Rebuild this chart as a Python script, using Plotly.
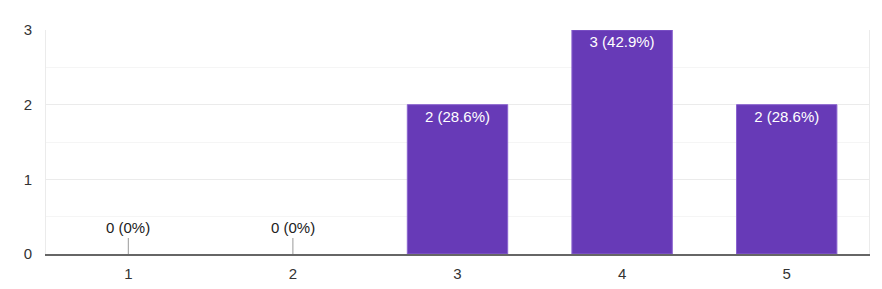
import plotly.graph_objects as go

categories = ["1", "2", "3", "4", "5"]
counts = [0, 0, 2, 3, 2]
percents = ["0%", "0%", "28.6%", "42.9%", "28.6%"]
y_ticks = [0, 1, 2, 3]

labels = [f"{c} ({p})" for c, p in zip(counts, percents)]
bar_text = [l if c > 0 else "" for l, c in zip(labels, counts)]

FONT = "Liberation Sans, Arial, sans-serif"

fig = go.Figure()
fig.add_trace(go.Bar(
    x=categories, y=counts,
    marker=dict(color="#673ab7",
                line=dict(color="#8a63cf", width=[1 if c > 0 else 0 for c in counts])),
    text=bar_text, textposition="inside", insidetextanchor="end",
    textangle=0,
    textfont=dict(color="white", size=15, family=FONT),
    hoverinfo="skip",
))

for i, (c, lab) in enumerate(zip(counts, labels)):
    if c == 0:
        fig.add_annotation(
            x=i, y=c, text=lab, showarrow=True, arrowhead=0,
            arrowwidth=1, arrowcolor="#999999", ax=0, ay=-16,
            font=dict(color="#222222", size=15, family=FONT),
            yanchor="bottom", standoff=0,
        )

fig.update_layout(
    width=882, height=289,
    margin=dict(l=46, r=13, t=30, b=35),
    paper_bgcolor="white", plot_bgcolor="white",
    bargap=0.39, showlegend=False,
    font=dict(family=FONT, size=15, color="#222222"),
)
fig.update_yaxes(
    range=[0, 3], tickvals=y_ticks, showgrid=True, gridcolor="#ebebeb",
    gridwidth=1, minor=dict(dtick=0.5, showgrid=True, gridcolor="#f5f5f5", tick0=0),
    showline=True, linecolor="#ebebeb", mirror=True, zeroline=False,
    ticklabelstandoff=10, tickfont=dict(size=15, color="#333333"),
    fixedrange=True, automargin=False,
)
fig.update_xaxes(
    showline=True, linecolor="#666666", linewidth=2, showgrid=False,
    ticks="", tickfont=dict(size=15, color="#333333"), ticklabelstandoff=5,
    fixedrange=True, automargin=False,
)

fig.write_html("out.html")
